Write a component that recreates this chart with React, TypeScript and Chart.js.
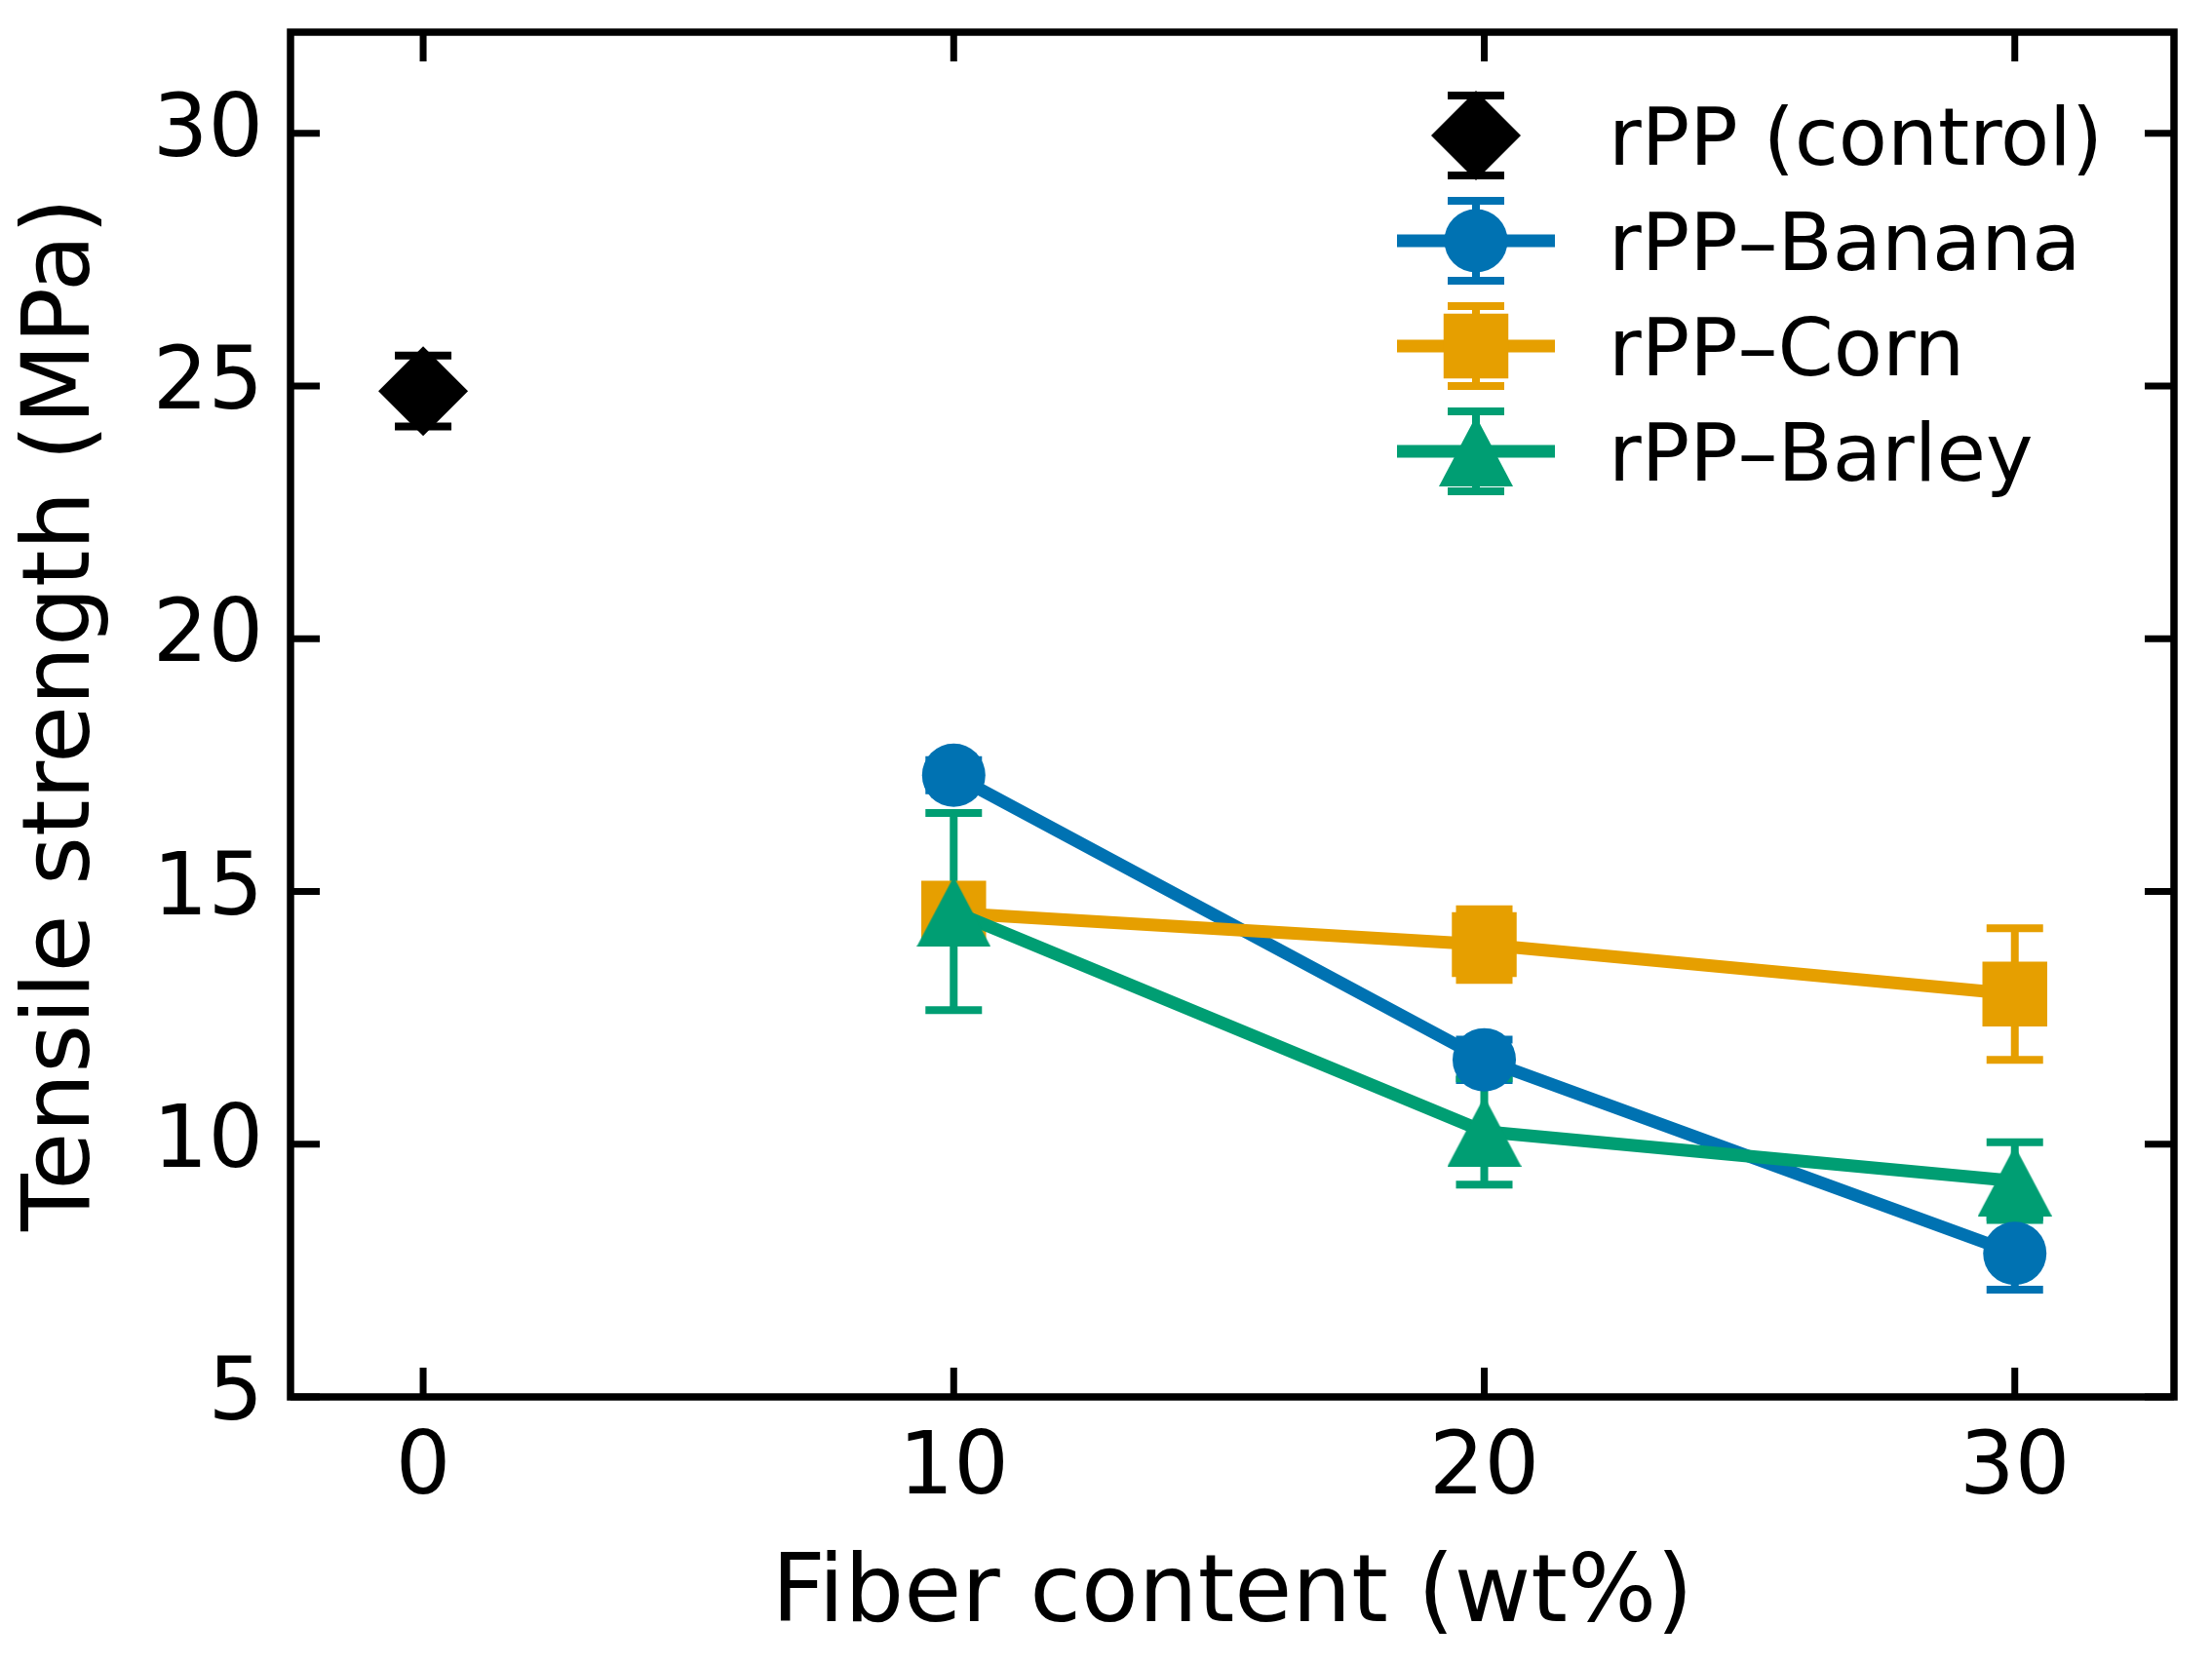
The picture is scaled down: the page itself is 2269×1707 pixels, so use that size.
import React, { useEffect, useRef } from 'react';
import { Chart, registerables } from 'chart.js';

Chart.register(...registerables);

const FONT = "'DejaVu Sans', sans-serif";

// ---- data ----
const CONTROL_X = [0];
const CONTROL_Y = [24.9];
const CONTROL_ERR = [0.7];

const FIBER_X = [10, 20, 30];
const BANANA_Y = [17.3, 11.67, 7.84];
const BANANA_ERR = [0.3, 0.4, 0.72];
const CORN_Y = [14.57, 13.95, 12.97];
const CORN_ERR = [0.3, 0.7, 1.3];
const BARLEY_Y = [14.6, 10.25, 9.27];
const BARLEY_ERR = [1.95, 1.05, 0.77];

const SERIES_LABELS = ['rPP (control)', 'rPP–Banana', 'rPP–Corn', 'rPP–Barley'];
const SERIES_COLORS = ['#000000', '#0072B2', '#E69F00', '#009E73'];

const X_TITLE = 'Fiber content (wt%)';
const Y_TITLE = 'Tensile strength (MPa)';
const X_MIN = -2.5;
const X_MAX = 33;
const X_STEP = 10;
const Y_MIN = 5;
const Y_MAX = 32;
const Y_STEP = 5;

// ---- styling constants ----
const W = 2269;
const H = 1707;
const LINE_W = 13;
const ERR_W = 8;
const CAP_HALF = 29;
const TRI_W = 76;
const TRI_H = 72;

function makeTriangle(color: string) {
  const c = document.createElement('canvas');
  c.width = TRI_W;
  c.height = TRI_H;
  const g = c.getContext('2d')!;
  g.fillStyle = color;
  g.beginPath();
  g.moveTo(TRI_W / 2, 0);
  g.lineTo(TRI_W, TRI_H);
  g.lineTo(0, TRI_H);
  g.closePath();
  g.fill();
  return c;
}

function drawMarker(ctx: CanvasRenderingContext2D, kind: string, x: number, y: number, color: string, tri: HTMLCanvasElement) {
  ctx.fillStyle = color;
  ctx.beginPath();
  if (kind === 'circle') {
    ctx.arc(x, y, 32.5, 0, Math.PI * 2);
    ctx.fill();
  } else if (kind === 'rect') {
    const s = 47 * Math.SQRT1_2;
    ctx.rect(x - s, y - s, 2 * s, 2 * s);
    ctx.fill();
  } else if (kind === 'rectRot') {
    const r = 46;
    ctx.moveTo(x - r, y);
    ctx.lineTo(x, y - r);
    ctx.lineTo(x + r, y);
    ctx.lineTo(x, y + r);
    ctx.closePath();
    ctx.fill();
  } else {
    ctx.drawImage(tri, x - TRI_W / 2, y - TRI_H / 2);
  }
}

export default function App() {
  const ref = useRef<HTMLCanvasElement>(null);

  useEffect(() => {
    const canvas = ref.current!;
    const tri = makeTriangle(SERIES_COLORS[3]);
    const errors = [CONTROL_ERR, BANANA_ERR, CORN_ERR, BARLEY_ERR];
    const kinds = ['rectRot', 'circle', 'rect', 'triangle'];
    const hasLine = [false, true, true, true];
    const pts = (xs: number[], ys: number[]) => xs.map((x, i) => ({ x, y: ys[i] }));

    const errorBarPlugin = {
      id: 'errorBars',
      beforeDatasetsDraw(chart: any) {
        const { ctx, scales } = chart;
        const xs = scales.x;
        const ys = scales.y;
        ctx.save();
        ctx.lineCap = 'butt';
        ctx.lineWidth = ERR_W;
        chart.data.datasets.forEach((ds: any, i: number) => {
          const errs = errors[i];
          ctx.strokeStyle = SERIES_COLORS[i];
          ds.data.forEach((p: any, j: number) => {
            const px = xs.getPixelForValue(p.x);
            const top = ys.getPixelForValue(p.y + errs[j]);
            const bot = ys.getPixelForValue(p.y - errs[j]);
            ctx.beginPath();
            ctx.moveTo(px, top);
            ctx.lineTo(px, bot);
            ctx.moveTo(px - CAP_HALF, top);
            ctx.lineTo(px + CAP_HALF, top);
            ctx.moveTo(px - CAP_HALF, bot);
            ctx.lineTo(px + CAP_HALF, bot);
            ctx.stroke();
          });
        });
        ctx.restore();
      },
    };

    const framePlugin = {
      id: 'frame',
      afterDatasetsDraw(chart: any) {
        const { ctx, chartArea: a, scales } = chart;
        const TL = 30;
        ctx.save();
        ctx.strokeStyle = '#000';
        ctx.lineCap = 'butt';
        ctx.lineWidth = 7;
        scales.x.ticks.forEach((t: any) => {
          const px = scales.x.getPixelForValue(t.value);
          ctx.beginPath();
          ctx.moveTo(px, a.bottom);
          ctx.lineTo(px, a.bottom - TL);
          ctx.moveTo(px, a.top);
          ctx.lineTo(px, a.top + TL);
          ctx.stroke();
        });
        scales.y.ticks.forEach((t: any) => {
          const py = scales.y.getPixelForValue(t.value);
          ctx.beginPath();
          ctx.moveTo(a.left, py);
          ctx.lineTo(a.left + TL, py);
          ctx.moveTo(a.right, py);
          ctx.lineTo(a.right - TL, py);
          ctx.stroke();
        });
        ctx.lineWidth = 7.5;
        ctx.strokeRect(a.left, a.top, a.right - a.left, a.bottom - a.top);
        ctx.restore();
      },
    };

    const legendPlugin = {
      id: 'legendInside',
      afterDraw(chart: any) {
        const { ctx, chartArea: a } = chart;
        const cx = a.right - 716;
        const row0 = a.top + 106;
        const rowGap = 108;
        const textX = cx + 136;
        ctx.save();
        SERIES_LABELS.forEach((label, i) => {
          const cy = row0 + i * rowGap;
          const color = SERIES_COLORS[i];
          ctx.strokeStyle = color;
          ctx.lineWidth = ERR_W;
          ctx.lineCap = 'butt';
          ctx.beginPath();
          ctx.moveTo(cx, cy - 41);
          ctx.lineTo(cx, cy + 41);
          ctx.moveTo(cx - CAP_HALF, cy - 41);
          ctx.lineTo(cx + CAP_HALF, cy - 41);
          ctx.moveTo(cx - CAP_HALF, cy + 41);
          ctx.lineTo(cx + CAP_HALF, cy + 41);
          ctx.stroke();
          if (hasLine[i]) {
            ctx.lineWidth = LINE_W;
            ctx.beginPath();
            ctx.moveTo(cx - 81, cy);
            ctx.lineTo(cx + 81, cy);
            ctx.stroke();
          }
          drawMarker(ctx, kinds[i], cx, cy, color, tri);
          ctx.fillStyle = '#000';
          ctx.font = `82px ${FONT}`;
          ctx.textAlign = 'left';
          ctx.textBaseline = 'alphabetic';
          ctx.fillText(label, textX, cy + 30);
        });
        ctx.restore();
      },
    };

    const chart = new Chart(canvas, {
      type: 'line',
      data: {
        datasets: [
          {
            label: SERIES_LABELS[0],
            data: pts(CONTROL_X, CONTROL_Y),
            showLine: false,
            borderColor: SERIES_COLORS[0],
            backgroundColor: SERIES_COLORS[0],
            pointStyle: 'rectRot',
            pointRadius: 46,
            pointHoverRadius: 46,
            pointBorderWidth: 0,
            order: 0,
          },
          {
            label: SERIES_LABELS[1],
            data: pts(FIBER_X, BANANA_Y),
            borderColor: SERIES_COLORS[1],
            backgroundColor: SERIES_COLORS[1],
            borderWidth: LINE_W,
            pointStyle: 'circle',
            pointRadius: 32.5,
            pointHoverRadius: 32.5,
            pointBorderWidth: 0,
            tension: 0,
            order: -1,
          },
          {
            label: SERIES_LABELS[2],
            data: pts(FIBER_X, CORN_Y),
            borderColor: SERIES_COLORS[2],
            backgroundColor: SERIES_COLORS[2],
            borderWidth: LINE_W,
            pointStyle: 'rect',
            pointRadius: 47,
            pointHoverRadius: 47,
            pointBorderWidth: 0,
            tension: 0,
            order: -2,
          },
          {
            label: SERIES_LABELS[3],
            data: pts(FIBER_X, BARLEY_Y),
            borderColor: SERIES_COLORS[3],
            backgroundColor: SERIES_COLORS[3],
            borderWidth: LINE_W,
            pointStyle: tri as any,
            pointRadius: 38,
            pointHoverRadius: 38,
            pointBorderWidth: 0,
            tension: 0,
            order: -3,
          },
        ],
      },
      options: {
        responsive: false,
        animation: false,
        devicePixelRatio: 1,
        events: [],
        layout: { autoPadding: false, padding: { top: 33, right: 39, left: 0, bottom: 0 } },
        plugins: {
          legend: { display: false },
          tooltip: { enabled: false },
          title: { display: false },
        },
        scales: {
          x: {
            type: 'linear',
            min: X_MIN,
            max: X_MAX,
            grid: { display: false, drawTicks: false },
            border: { display: false },
            ticks: {
              stepSize: X_STEP,
              includeBounds: false,
              autoSkip: false,
              maxRotation: 0,
              padding: 22,
              color: '#000',
              font: { family: FONT, size: 89 },
            },
            title: {
              display: true,
              text: X_TITLE,
              color: '#000',
              font: { family: FONT, size: 96 },
              padding: { top: 0, bottom: 11 },
            },
            afterFit: (s: any) => {
              s.height = H - 1433;
              s.paddingLeft = 0;
              s.paddingRight = 0;
            },
          },
          y: {
            type: 'linear',
            min: Y_MIN,
            max: Y_MAX,
            grid: { display: false, drawTicks: false },
            border: { display: false },
            ticks: {
              stepSize: Y_STEP,
              includeBounds: false,
              autoSkip: false,
              padding: 28,
              color: '#000',
              font: { family: FONT, size: 89 },
            },
            title: {
              display: true,
              text: Y_TITLE,
              color: '#000',
              font: { family: FONT, size: 96 },
              padding: { top: 8, bottom: 0 },
            },
            afterFit: (s: any) => {
              s.width = 298;
              s.paddingTop = 0;
              s.paddingBottom = 0;
            },
          },
        },
      },
      plugins: [errorBarPlugin, framePlugin, legendPlugin],
    } as any);

    return () => chart.destroy();
  }, []);

  return (
    <div style={{ position: 'absolute', left: 0, top: 0, width: W, height: H, background: '#fff' }}>
      <canvas ref={ref} width={W} height={H} style={{ display: 'block', width: W, height: H }} />
    </div>
  );
}
